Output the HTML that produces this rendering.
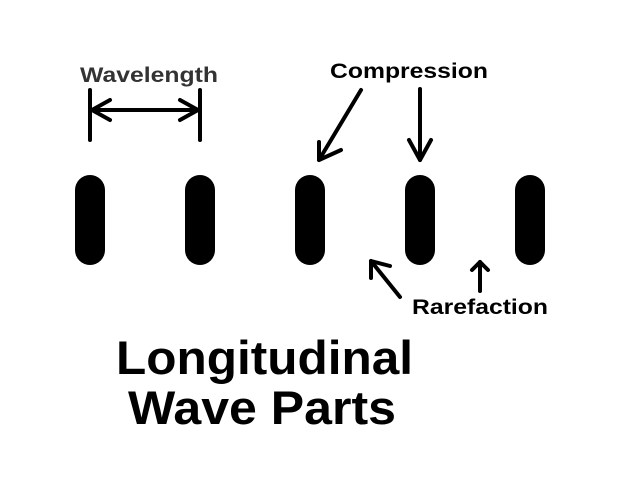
<!DOCTYPE html>
<html><head><style>
body{margin:0;background:#fff;}
</style></head><body>
<svg width="640" height="480" xmlns="http://www.w3.org/2000/svg" style="display:block">
<rect width="640" height="480" fill="#fff"/>
<g fill="#000">
<rect x="75" y="175" width="30" height="90" rx="15"/>
<rect x="185" y="175" width="30" height="90" rx="15"/>
<rect x="295" y="175" width="30" height="90" rx="15"/>
<rect x="405" y="175" width="30" height="90" rx="15"/>
<rect x="515" y="175" width="30" height="90" rx="15"/>
</g>
<g stroke="#000" stroke-width="4" stroke-linecap="round" fill="none" stroke-linejoin="round">
<line x1="90" y1="90" x2="90" y2="140"/>
<line x1="200" y1="90" x2="200" y2="140"/>
<line x1="92" y1="110" x2="198" y2="110"/>
<polyline points="110,100 92,110 110,120"/>
<polyline points="180,100 198,110 180,120"/>
<line x1="361" y1="90" x2="319" y2="160"/>
<polyline points="319,142 319,160 341,150"/>
<line x1="420" y1="89" x2="420" y2="160"/>
<polyline points="409,140 420,160 431,140"/>
<line x1="400" y1="297" x2="371" y2="261"/>
<polyline points="371,278 371,261 390,266"/>
<line x1="480" y1="291" x2="480" y2="262"/>
<polyline points="472,270 480,262 488,270"/>
</g>
<g font-family="Liberation Sans, sans-serif" font-weight="bold">
<text x="80" y="82" font-size="21" fill="#333" textLength="138" lengthAdjust="spacingAndGlyphs">Wavelength</text>
<text x="330" y="78" font-size="21" textLength="158" lengthAdjust="spacingAndGlyphs">Compression</text>
<text x="412" y="314" font-size="21" textLength="136" lengthAdjust="spacingAndGlyphs">Rarefaction</text>
<text x="116" y="374" font-size="47" textLength="297" lengthAdjust="spacingAndGlyphs">Longitudinal</text>
<text x="128" y="424" font-size="47" textLength="268" lengthAdjust="spacingAndGlyphs">Wave Parts</text>
</g>
</svg>
</body></html>
